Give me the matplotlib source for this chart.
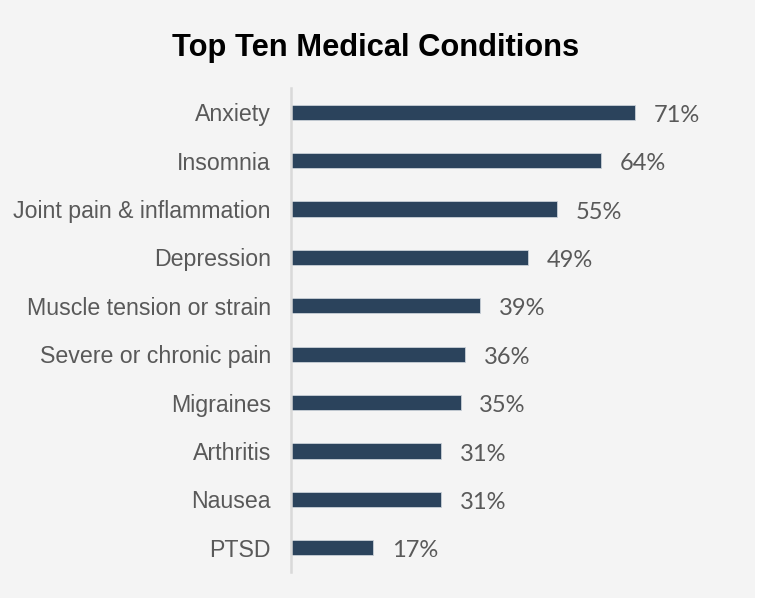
import matplotlib.pyplot as plt
from matplotlib.patches import Rectangle

conditions = ["Anxiety", "Insomnia", "Joint pain & inflammation", "Depression",
              "Muscle tension or strain", "Severe or chronic pain", "Migraines",
              "Arthritis", "Nausea", "PTSD"]
percents = [71, 64, 55, 49, 39, 36, 35, 31, 31, 17]

bg = "#f4f4f4"
bar_color = "#2b435c"
text_gray = "#595959"

fig = plt.figure(figsize=(7.63, 5.98), dpi=100, facecolor=bg)
# thin white strip on the right edge, like the source screenshot
fig.patches.append(Rectangle((755 / 763, 0), 8 / 763, 1, transform=fig.transFigure,
                             facecolor="white", edgecolor="none", zorder=0))

ax = fig.add_axes([291 / 763, 1 - 572 / 598, 0.603, 484 / 598])
ax.set_facecolor(bg)

ypos = list(range(len(conditions)))
ax.barh(ypos, percents, height=0.31, color=bar_color, edgecolor="#c9d0d8", linewidth=0.6)
ax.set_ylim(len(conditions) - 0.5, -0.5)
ax.set_xlim(0, 95)

ax.set_yticks(ypos)
ax.set_yticklabels(conditions, fontsize=16.7, color=text_gray, family="Liberation Sans")
ax.tick_params(axis="y", length=0, pad=14.5)
ax.set_xticks([])

for s in ["top", "right", "bottom"]:
    ax.spines[s].set_visible(False)
ax.spines["left"].set_color("#d9d9d9")
ax.spines["left"].set_linewidth(1.8)

for y, v in zip(ypos, percents):
    ax.annotate(f"{v}%", (v, y), xytext=(13.5, -2.2), textcoords="offset points",
                ha="left", va="center", fontsize=17, color=text_gray, family="Lato")

fig.text(376 / 763, 1 - 56 / 598, "Top Ten Medical Conditions", ha="center",
         va="baseline", fontsize=22.2, fontweight="bold", color="black",
         family="Liberation Sans")

fig.savefig("out.png", dpi=100, facecolor=bg)
